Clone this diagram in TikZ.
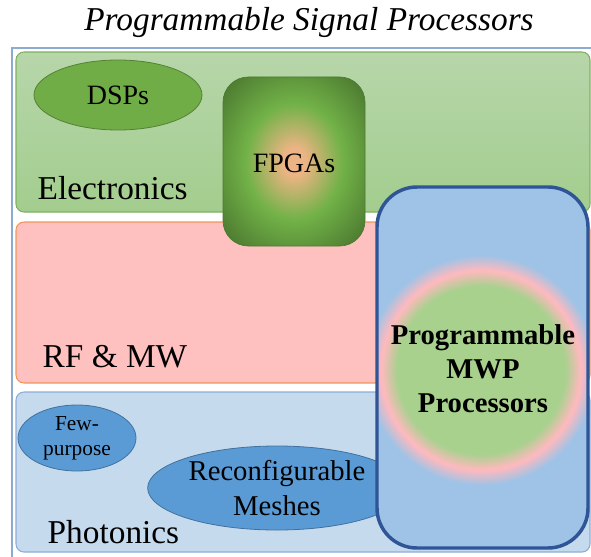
\documentclass[tikz,border=0pt]{standalone}
\usepackage{fontspec}
\setmainfont{Liberation Serif}
\usetikzlibrary{shapes.geometric}

\definecolor{frameblue}{RGB}{140,170,210}
\definecolor{electop}{RGB}{183,214,170}
\definecolor{elecbot}{RGB}{163,205,142}
\definecolor{elecedge}{RGB}{125,178,95}
\definecolor{rfpink}{RGB}{255,192,192}
\definecolor{rfedge}{RGB}{240,150,90}
\definecolor{photblue}{RGB}{198,218,238}
\definecolor{photedge}{RGB}{140,172,215}
\definecolor{dspgreen}{RGB}{112,173,71}
\definecolor{dspedge}{RGB}{84,130,53}
\definecolor{fewblue}{RGB}{91,155,213}
\definecolor{fewedge}{RGB}{65,113,156}
\definecolor{mwpfill}{RGB}{158,195,230}
\definecolor{mwpedge}{RGB}{47,85,151}
\definecolor{fpgaorange}{RGB}{236,180,132}
\definecolor{fpgagreen}{RGB}{114,178,72}
\definecolor{fpgadark}{RGB}{76,122,48}
\definecolor{glowgreen}{RGB}{168,209,142}
\definecolor{glowpink}{RGB}{255,185,190}

\pgfdeclareradialshading{fpgaglow}{\pgfpointorigin}{color(0bp)=(fpgaorange); color(4bp)=(fpgaorange); color(17bp)=(fpgagreen); color(33bp)=(fpgadark); color(50bp)=(fpgadark)}
\pgfdeclareradialshading{mwpglow}{\pgfpointorigin}{color(0bp)=(glowgreen); color(17.5bp)=(glowgreen); color(20.8bp)=(glowpink); color(24bp)=(mwpfill); color(50bp)=(mwpfill)}

\tikzset{
  band/.style={line width=0.8pt,rounded corners=6pt},
  blob/.style={ellipse,draw,line width=0.6pt,inner sep=0pt,align=center},
  lbl/.style={anchor=base west,font=\fontsize{25}{30}\selectfont}
}

\begin{document}
\begin{tikzpicture}[x=0.75pt,y=-0.75pt]
        \useasboundingbox (0,0) rectangle (591,556);
        \node[font=\fontsize{25}{30}\selectfont\itshape] (title) at (309,22) {Programmable Signal Processors};
        \draw[frameblue,line width=1.1pt] (12,562) -- (12,48) -- (597,48);

        \draw[band,elecedge,top color=electop,bottom color=elecbot] (16,52) rectangle (590,212);
        \draw[band,rfedge,fill=rfpink] (16,222) rectangle (590,383);
        \draw[band,photedge,fill=photblue] (16,392) rectangle (590,552);

        \node[lbl] (elec) at (33,199) {Electronics};
        \node[lbl] (rfmw) at (38,367) {RF \& MW};
        \node[lbl] (phot) at (43,543) {Photonics};

        \node[blob,dspedge,fill=dspgreen,minimum width=126pt,minimum height=52.5pt,font=\fontsize{21}{25}\selectfont,text=black] (dsp) at (118,95) {DSPs};
        \node[blob,fewedge,fill=fewblue,minimum width=88.5pt,minimum height=49.5pt,font=\fontsize{16}{18.5}\selectfont,text=black] (few) at (77,438) {Few-\\purpose};
        \node[blob,fewedge,fill=fewblue,minimum width=194pt,minimum height=63pt,font=\fontsize{21.5}{26}\selectfont,text=black] (mesh) at (277,488) {Reconfigurable\\Meshes};

        \shade[shading=fpgaglow,rounded corners=19pt] (223,77) rectangle (365,246);
        \draw[fpgadark,line width=0.5pt,rounded corners=19pt] (223,77) rectangle (365,246);
        \node[font=\fontsize{21}{25}\selectfont] (fpga) at (294,163) {FPGAs};

        \begin{scope}
        \clip[rounded corners=30pt] (377,187) rectangle (588,548);
        \fill[mwpfill] (377,187) rectangle (588,548);
        \shade[shading=mwpglow] (481,370) circle (120);
        \end{scope}
        \draw[mwpedge,line width=2.6pt,rounded corners=30pt] (377,187) rectangle (588,548);
        \node[align=center,font=\fontsize{21.5}{25.5}\selectfont\bfseries] (mwp) at (483,369) {Programmable\\MWP\\Processors};
\end{tikzpicture}
\end{document}
